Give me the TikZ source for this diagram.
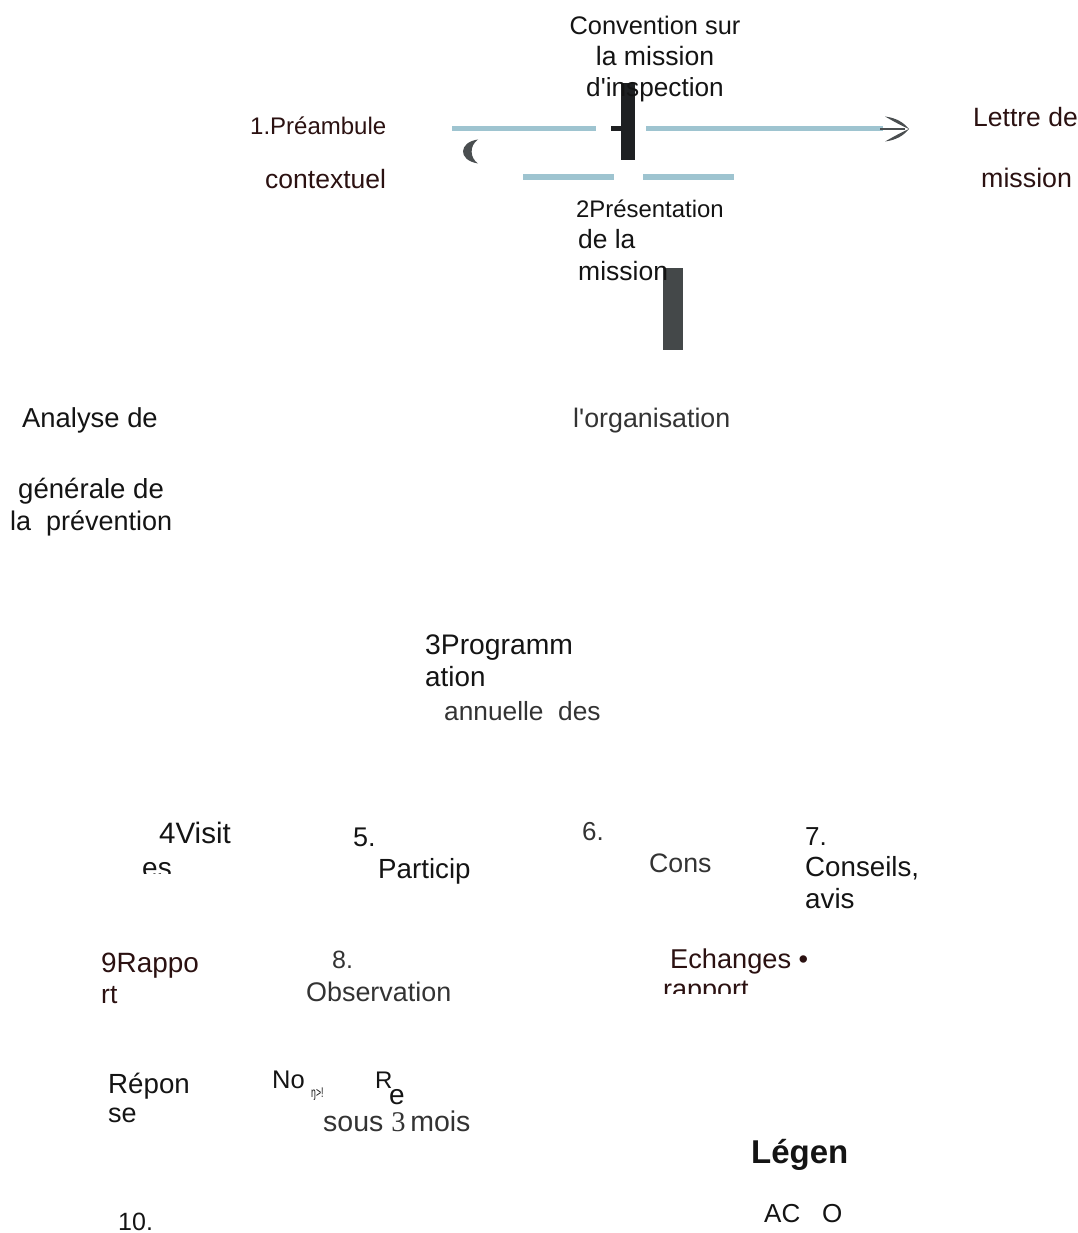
\documentclass[tikz,border=0pt]{standalone}
\usepackage{fontspec}
\setmainfont{Liberation Sans}
\newfontfamily\serifthree{Liberation Serif}
\definecolor{brn}{HTML}{2B1111}
\definecolor{blk}{HTML}{141414}
\definecolor{gry}{HTML}{333333}
\definecolor{bluel}{HTML}{9EC4D0}
\definecolor{bar1}{HTML}{1E2022}
\definecolor{bar2}{HTML}{444849}
\definecolor{tipc}{HTML}{4A4E50}
\newcommand{\fs}[1]{\fontsize{#1}{#1}\selectfont}
\begin{document}
\begin{tikzpicture}[x=1pt,y=-1pt,
  txt/.style={anchor=base west,inner sep=0pt,font=\fs{25},text=blk},
  txtb/.style={txt,text=brn},
  txtg/.style={txt,text=gry},
  ctxt/.style={anchor=base,inner sep=0pt,font=\fs{25},text=blk},
  bline/.style={draw=bluel,line width=5pt},
  bline2/.style={draw=bluel,line width=6pt}]
\useasboundingbox (0,0) rectangle (1077,1233);
% connector shapes at the top
\draw[bline] (452,129) -- (596,129);
\draw[bline] (646,129) -- (883,129);
\draw[draw=tipc,line width=2pt] (880,129) -- (905,129);
\fill[tipc] (885,116.5) .. controls (897,118) and (904,123) .. (909,129) .. controls (900,125) and (893,121) .. (885,116.5) -- cycle;
\fill[tipc] (885,141.5) .. controls (897,140) and (904,135) .. (909,129) .. controls (900,133) and (893,137) .. (885,141.5) -- cycle;
\fill[tipc] (478,139.5) .. controls (459,142) and (457,160) .. (478,163.5) .. controls (470,158) and (469,146) .. (478,139.5) -- cycle;
\draw[bline2] (523,177) -- (614,177);
\draw[bline2] (643,177) -- (734,177);
\fill[bar1] (621,83) rectangle (635,160);
\fill[bar1] (611,126) rectangle (621,131);
\fill[bar2] (663,268) rectangle (683,350);
% texts
\node[ctxt,font=\fs{25.4}] (conv1) at (655,35) {Convention sur};
\node[ctxt,font=\fs{26.6}] (conv2) at (655,66) {la mission};
\node[ctxt,font=\fs{26.2}] (conv3) at (655,97) {d\textquotesingle inspection};
\node[txtb,font=\fs{24}] (pre1) at (250,135) {1.Préambule};
\node[txtb,font=\fs{26.5}] (pre2) at (265,189) {contextuel};
\node[txtb,font=\fs{26.5}] (let1) at (973,127) {Lettre de};
\node[txtb,font=\fs{26.8}] (let2) at (981,188) {mission};
\node[txt,font=\fs{23.9}] (pres1) at (576,218) {2Présentation};
\node[txt,font=\fs{26.4}] (pres2) at (578,249) {de la};
\node[txt,font=\fs{26.5}] (pres3) at (578,280) {mission};
\node[txt,font=\fs{27.4}] (ana1) at (22,427) {Analyse de};
\node[txtg,font=\fs{26.8}] (org) at (573,427) {l\textquotesingle organisation};
\node[txt,font=\fs{27.6}] (ana2) at (18,498) {générale de};
\node[txt,font=\fs{27}] (ana3) at (10,530) {la\ \ prévention};
\node[txt,font=\fs{28.3}] (prog1) at (425,654) {3Programm};
\node[txt,font=\fs{27.8}] (prog2) at (425,686) {ation};
\node[txtg,font=\fs{26.3}] (prog3) at (444,720) {annuelle\ \ des};
\node[txt,font=\fs{29.5}] (vis1) at (159,843) {4Visit};
\begin{scope}
\clip (130,852) rectangle (190,873);
\node[txt,font=\fs{28}] (vis2) at (142,877) {es};
\end{scope}
\node[txt,font=\fs{27}] (par1) at (353,846) {5.};
\node[txt,font=\fs{27.7}] (par2) at (378,878) {Particip};
\node[txtg,font=\fs{26}] (con1) at (582,840) {6.};
\node[txtg,font=\fs{26.7}] (con2) at (649,872) {Cons};
\node[txt,font=\fs{26}] (cav1) at (805,845) {7.};
\node[txt,font=\fs{27.7}] (cav2) at (805,876) {Conseils,};
\node[txt,font=\fs{27.8}] (cav3) at (805,908) {avis};
\node[txtb,font=\fs{27.9}] (rap1) at (101,972) {9Rappo};
\node[txtb,font=\fs{26.5}] (rap2) at (101,1003) {rt};
\node[txtg,font=\fs{25}] (obs1) at (332,968) {8.};
\node[txtg,font=\fs{26.9}] (obs2) at (306,1001) {Observation};
\node[txtb,font=\fs{27.2}] (ech) at (670,968) {Echanges \textbullet};
\begin{scope}
\clip (655,970) rectangle (770,993);
\node[txtb,font=\fs{27}] (rapp) at (663,998) {rapport};
\end{scope}
\node[txt,font=\fs{27.7}] (rep1) at (108,1093) {Répon};
\node[txt,font=\fs{27}] (rep2) at (108,1122) {se};
\node[txt,font=\fs{25.5}] (no) at (272,1088) {No};
\node[txt,font=\fs{14}] (nosub) at (311,1097) {\scalebox{0.62}[1]{ŋ>!}};
\node[txt,font=\fs{24}] (re1) at (375,1088) {R};
\node[txt,font=\fs{28}] (re2) at (389,1104) {e};
\node[txtg,font=\fs{28.5}] (sous) at (323,1131) {sous {\serifthree 3}\,mois};
\node[txt,font=\bfseries\fs{33}] (leg) at (751,1163) {Légen};
\node[txt,font=\fs{26}] (ac) at (764,1222) {AC};
\node[txt,font=\fs{26}] (ao) at (822,1222) {O};
\node[txt,font=\fs{25}] (ten) at (118,1230) {10.};
\end{tikzpicture}
\end{document}
